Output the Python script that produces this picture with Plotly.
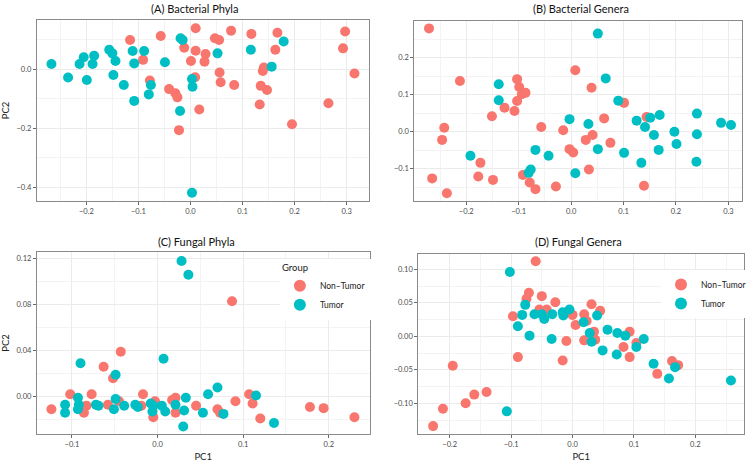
import plotly.graph_objects as go

RED = "#F8766D"
TEAL = "#00BFC4"

# ---------------- data ----------------
# (A) Bacterial Phyla
a_nt_x = [-0.116, -0.057, -0.091, -0.078, -0.041, -0.029, -0.025, -0.022, -0.012, 0.001, 0.009, 0.010, 0.010, 0.017, 0.029, 0.027, 0.047, 0.055, 0.056, 0.058, 0.078, 0.084, 0.117, 0.135, 0.133, 0.139, 0.141, 0.147, 0.163, 0.167, 0.195, 0.265, 0.293, 0.297, 0.315]
a_nt_y = [0.099, 0.113, 0.032, -0.038, -0.067, -0.081, -0.095, -0.206, 0.073, 0.028, -0.027, 0.139, 0.063, -0.136, 0.052, 0.026, 0.105, 0.099, -0.011, -0.044, 0.131, -0.053, 0.120, -0.056, -0.119, -0.006, 0.006, -0.070, 0.066, 0.124, -0.186, -0.115, 0.071, 0.128, -0.014]
a_t_x = [-0.267, -0.235, -0.213, -0.205, -0.199, -0.188, -0.185, -0.156, -0.150, -0.144, -0.148, -0.128, -0.111, -0.108, -0.108, -0.089, -0.076, -0.080, -0.049, -0.019, -0.015, -0.020, 0.003, 0.004, 0.003, 0.052, 0.116, 0.156, 0.179]
a_t_y = [0.018, -0.028, 0.018, 0.041, -0.036, 0.018, 0.046, 0.066, 0.054, 0.028, -0.019, -0.053, 0.062, 0.020, -0.107, 0.062, -0.053, -0.085, 0.024, 0.105, 0.099, -0.141, -0.033, -0.059, -0.418, 0.054, 0.066, 0.009, 0.094]

# (B) Bacterial Genera
b_nt_x = [-0.271, -0.212, -0.242, -0.246, -0.265, -0.237, -0.173, -0.177, -0.149, -0.151, -0.127, -0.108, -0.103, -0.099, -0.103, -0.094, -0.087, -0.092, -0.079, -0.068, -0.057, -0.029, -0.015, -0.003, 0.004, 0.008, 0.028, 0.034, 0.039, 0.041, 0.063, 0.075, 0.101, 0.139, 0.144]
b_nt_y = [0.279, 0.137, 0.011, -0.022, -0.126, -0.166, -0.084, -0.121, -0.130, 0.042, 0.065, 0.056, 0.142, 0.121, 0.083, 0.101, 0.105, -0.117, -0.137, -0.155, 0.013, -0.148, 0.004, -0.047, -0.056, 0.166, -0.022, -0.102, 0.119, -0.009, 0.036, -0.030, 0.078, -0.146, 0.040]
b_t_x = [-0.138, -0.138, -0.192, -0.081, -0.077, -0.068, -0.043, -0.003, 0.008, 0.033, 0.051, 0.051, 0.066, 0.090, 0.101, 0.125, 0.134, 0.141, 0.151, 0.158, 0.169, 0.167, 0.197, 0.201, 0.240, 0.240, 0.239, 0.286, 0.305]
b_t_y = [0.128, 0.085, -0.065, -0.111, -0.102, -0.049, -0.065, 0.034, -0.112, 0.021, -0.047, 0.265, 0.144, 0.084, -0.057, 0.030, -0.084, 0.013, 0.038, -0.009, 0.045, -0.049, 0.000, -0.033, 0.049, -0.007, -0.081, 0.024, 0.018]

# (C) Fungal Phyla
c_nt_x = [0.087, -0.043, -0.063, -0.052, -0.102, -0.077, -0.017, -0.124, -0.086, -0.083, -0.058, -0.045, -0.019, -0.005, -0.003, 0.017, 0.021, 0.021, 0.045, 0.070, 0.073, 0.091, 0.107, 0.111, 0.120, 0.178, 0.194, 0.230]
c_nt_y = [0.083, 0.039, 0.026, 0.016, 0.002, 0.002, 0.002, -0.011, -0.014, -0.008, -0.007, -0.004, -0.008, -0.018, -0.004, -0.003, -0.001, -0.014, -0.008, -0.011, -0.014, -0.004, 0.002, -0.006, -0.019, -0.009, -0.010, -0.018]
c_t_x = [0.028, 0.036, -0.090, 0.007, -0.049, 0.070, 0.059, 0.115, 0.136, 0.030, 0.077, 0.053, 0.033, 0.031, 0.021, 0.009, 0.005, -0.005, -0.006, -0.008, -0.023, -0.026, -0.039, -0.049, -0.051, -0.069, -0.072, -0.093, -0.092, -0.093, -0.108, -0.108]
c_t_y = [0.118, 0.106, 0.029, 0.033, 0.019, 0.008, 0.002, 0.001, -0.023, -0.026, -0.015, -0.014, -0.001, -0.012, -0.007, -0.013, -0.008, -0.008, -0.013, -0.006, -0.009, -0.007, -0.008, -0.002, -0.011, -0.008, -0.007, -0.001, -0.007, -0.011, -0.007, -0.014]

# (D) Fungal Genera
d_nt_x = [-0.227, -0.211, -0.195, -0.174, -0.160, -0.140, -0.089, -0.097, -0.060, -0.071, -0.075, -0.050, -0.054, -0.042, -0.028, -0.016, -0.010, 0.000, 0.005, 0.019, 0.023, 0.019, 0.031, 0.045, 0.035, 0.037, 0.093, 0.083, 0.093, 0.104, 0.138, 0.162, 0.172]
d_nt_y = [-0.134, -0.108, -0.044, -0.100, -0.087, -0.083, -0.031, 0.030, 0.112, 0.065, 0.056, 0.060, 0.040, 0.040, 0.051, -0.036, -0.007, 0.032, 0.017, 0.033, 0.023, -0.006, 0.048, 0.038, 0.007, -0.005, 0.007, -0.016, -0.031, -0.010, -0.056, -0.037, -0.043]
d_t_x = [-0.102, -0.107, -0.089, -0.082, -0.077, -0.070, -0.062, -0.050, -0.046, -0.033, -0.034, -0.016, -0.015, -0.005, 0.018, 0.028, 0.031, 0.040, 0.049, 0.057, 0.073, 0.072, 0.086, 0.104, 0.116, 0.132, 0.157, 0.167, 0.258]
d_t_y = [0.096, -0.112, 0.015, 0.032, 0.047, 0.001, 0.033, 0.033, 0.026, 0.033, -0.004, 0.036, 0.031, 0.040, 0.021, 0.005, -0.008, 0.031, -0.021, 0.010, 0.005, -0.027, 0.001, -0.016, -0.004, -0.041, -0.063, -0.046, -0.066]

group_names = ["Non\u2013Tumor", "Tumor"]
panel_titles = ["(A) Bacterial Phyla", "(B) Bacterial Genera", "(C) Fungal Phyla", "(D) Fungal Genera"]

# ---------------- figure ----------------
W, H = 752, 462
FONT = "Lato, 'Open Sans', sans-serif"

def px_dom_x(a, b):
    return [a / W, b / W]

def px_dom_y(top, bottom):
    return [1 - bottom / H, 1 - top / H]

panels = [
    dict(nt=(a_nt_x, a_nt_y), t=(a_t_x, a_t_y), xd=px_dom_x(37, 370), yd=px_dom_y(20, 201),
         xr=[-0.295, 0.342], yr=[-0.446, 0.167], xdt=0.1, ydt=0.2, xf=".1f", yf=".1f",
         xmin=0.05, ymin=0.1, leg=None, tx=195, ty=9),
    dict(nt=(b_nt_x, b_nt_y), t=(b_t_x, b_t_y), xd=px_dom_x(416, 745), yd=px_dom_y(21, 201),
         xr=[-0.299, 0.326], yr=[-0.187, 0.299], xdt=0.1, ydt=0.1, xf=".1f", yf=".1f",
         xmin=0.05, ymin=0.05, leg=None, tx=583, ty=9),
    dict(nt=(c_nt_x, c_nt_y), t=(c_t_x, c_t_y), xd=px_dom_x(37, 371), yd=px_dom_y(252, 434),
         xr=[-0.141, 0.2476], yr=[-0.0325, 0.1258], xdt=0.1, ydt=0.04, xf=".1f", yf=".2f",
         xmin=0.05, ymin=0.02, leg="legend", tx=197, ty=241),
    dict(nt=(d_nt_x, d_nt_y), t=(d_t_x, d_t_y), xd=px_dom_x(420, 747), yd=px_dom_y(254, 434),
         xr=[-0.2511, 0.2793], yr=[-0.1458, 0.1229], xdt=0.1, ydt=0.05, xf=".1f", yf=".2f",
         xmin=0.05, ymin=0.025, leg="legend2", tx=581, ty=241),
]

fig = go.Figure()
layout = {}
annotations = []
for i, p in enumerate(panels, start=1):
    sfx = "" if i == 1 else str(i)
    for (xs, ys), col, name in [(p["nt"], RED, group_names[0]), (p["t"], TEAL, group_names[1])]:
        tr = dict(x=xs, y=ys, mode="markers", name=name,
                  marker=dict(color=col, size=10, line=dict(width=0)),
                  xaxis="x" + sfx, yaxis="y" + sfx,
                  showlegend=p["leg"] is not None)
        if p["leg"] is not None:
            tr["legend"] = p["leg"]
        fig.add_trace(go.Scatter(**tr))
    common = dict(showgrid=True, gridcolor="#EBEBEB", gridwidth=1, zeroline=False,
                  showline=True, mirror=True, linecolor="#8a8a8a", linewidth=1,
                  ticks="outside", ticklen=3, tickcolor="#6a6a6a", tickwidth=1,
                  tickfont=dict(family=FONT, size=7.5, color="#4D4D4D"), tickmode="linear", tick0=0)
    xa = dict(common, domain=p["xd"], range=p["xr"], dtick=p["xdt"], tickformat=p["xf"],
              anchor="y" + sfx,
              minor=dict(showgrid=True, gridcolor="#F3F3F3", gridwidth=0.6, dtick=p["xmin"], tick0=0))
    ya = dict(common, domain=p["yd"], range=p["yr"], dtick=p["ydt"], tickformat=p["yf"],
              anchor="x" + sfx,
              minor=dict(showgrid=True, gridcolor="#F3F3F3", gridwidth=0.6, dtick=p["ymin"], tick0=0))
    if i in (1, 3):
        ya["title"] = dict(text="PC2", font=dict(family=FONT, size=9.5, color="#222"), standoff=8)
    if i in (3, 4):
        xa["title"] = dict(text="PC1", font=dict(family=FONT, size=9.5, color="#222"), standoff=5)
    layout["xaxis" + sfx] = xa
    layout["yaxis" + sfx] = ya
    annotations.append(dict(text=panel_titles[i - 1], xref="paper", yref="paper",
                            x=p["tx"] / W, y=1 - p["ty"] / H,
                            xanchor="center", yanchor="middle", showarrow=False,
                            font=dict(family=FONT, size=11, color="#111")))

fig.update_layout(
    width=W, height=H, margin=dict(l=0, r=0, t=0, b=0),
    paper_bgcolor="white", plot_bgcolor="white",
    font=dict(family=FONT),
    annotations=annotations,
    legend=dict(x=281 / W, y=1 - 259 / H, xanchor="left", yanchor="top",
                title=dict(text="Group", font=dict(family=FONT, size=9.5, color="#222")),
                font=dict(family=FONT, size=8.5, color="#222"), bgcolor="white",
                itemsizing="constant", tracegroupgap=0),
    legend2=dict(x=664 / W, y=1 - 270 / H, xanchor="left", yanchor="top",
                 font=dict(family=FONT, size=8.5, color="#222"), bgcolor="white",
                 itemsizing="constant", tracegroupgap=0),
    **layout,
)

fig.write_html("out.html", config={"displayModeBar": False},
               post_script="document.body.style.margin='0';document.body.style.overflow='hidden';")
